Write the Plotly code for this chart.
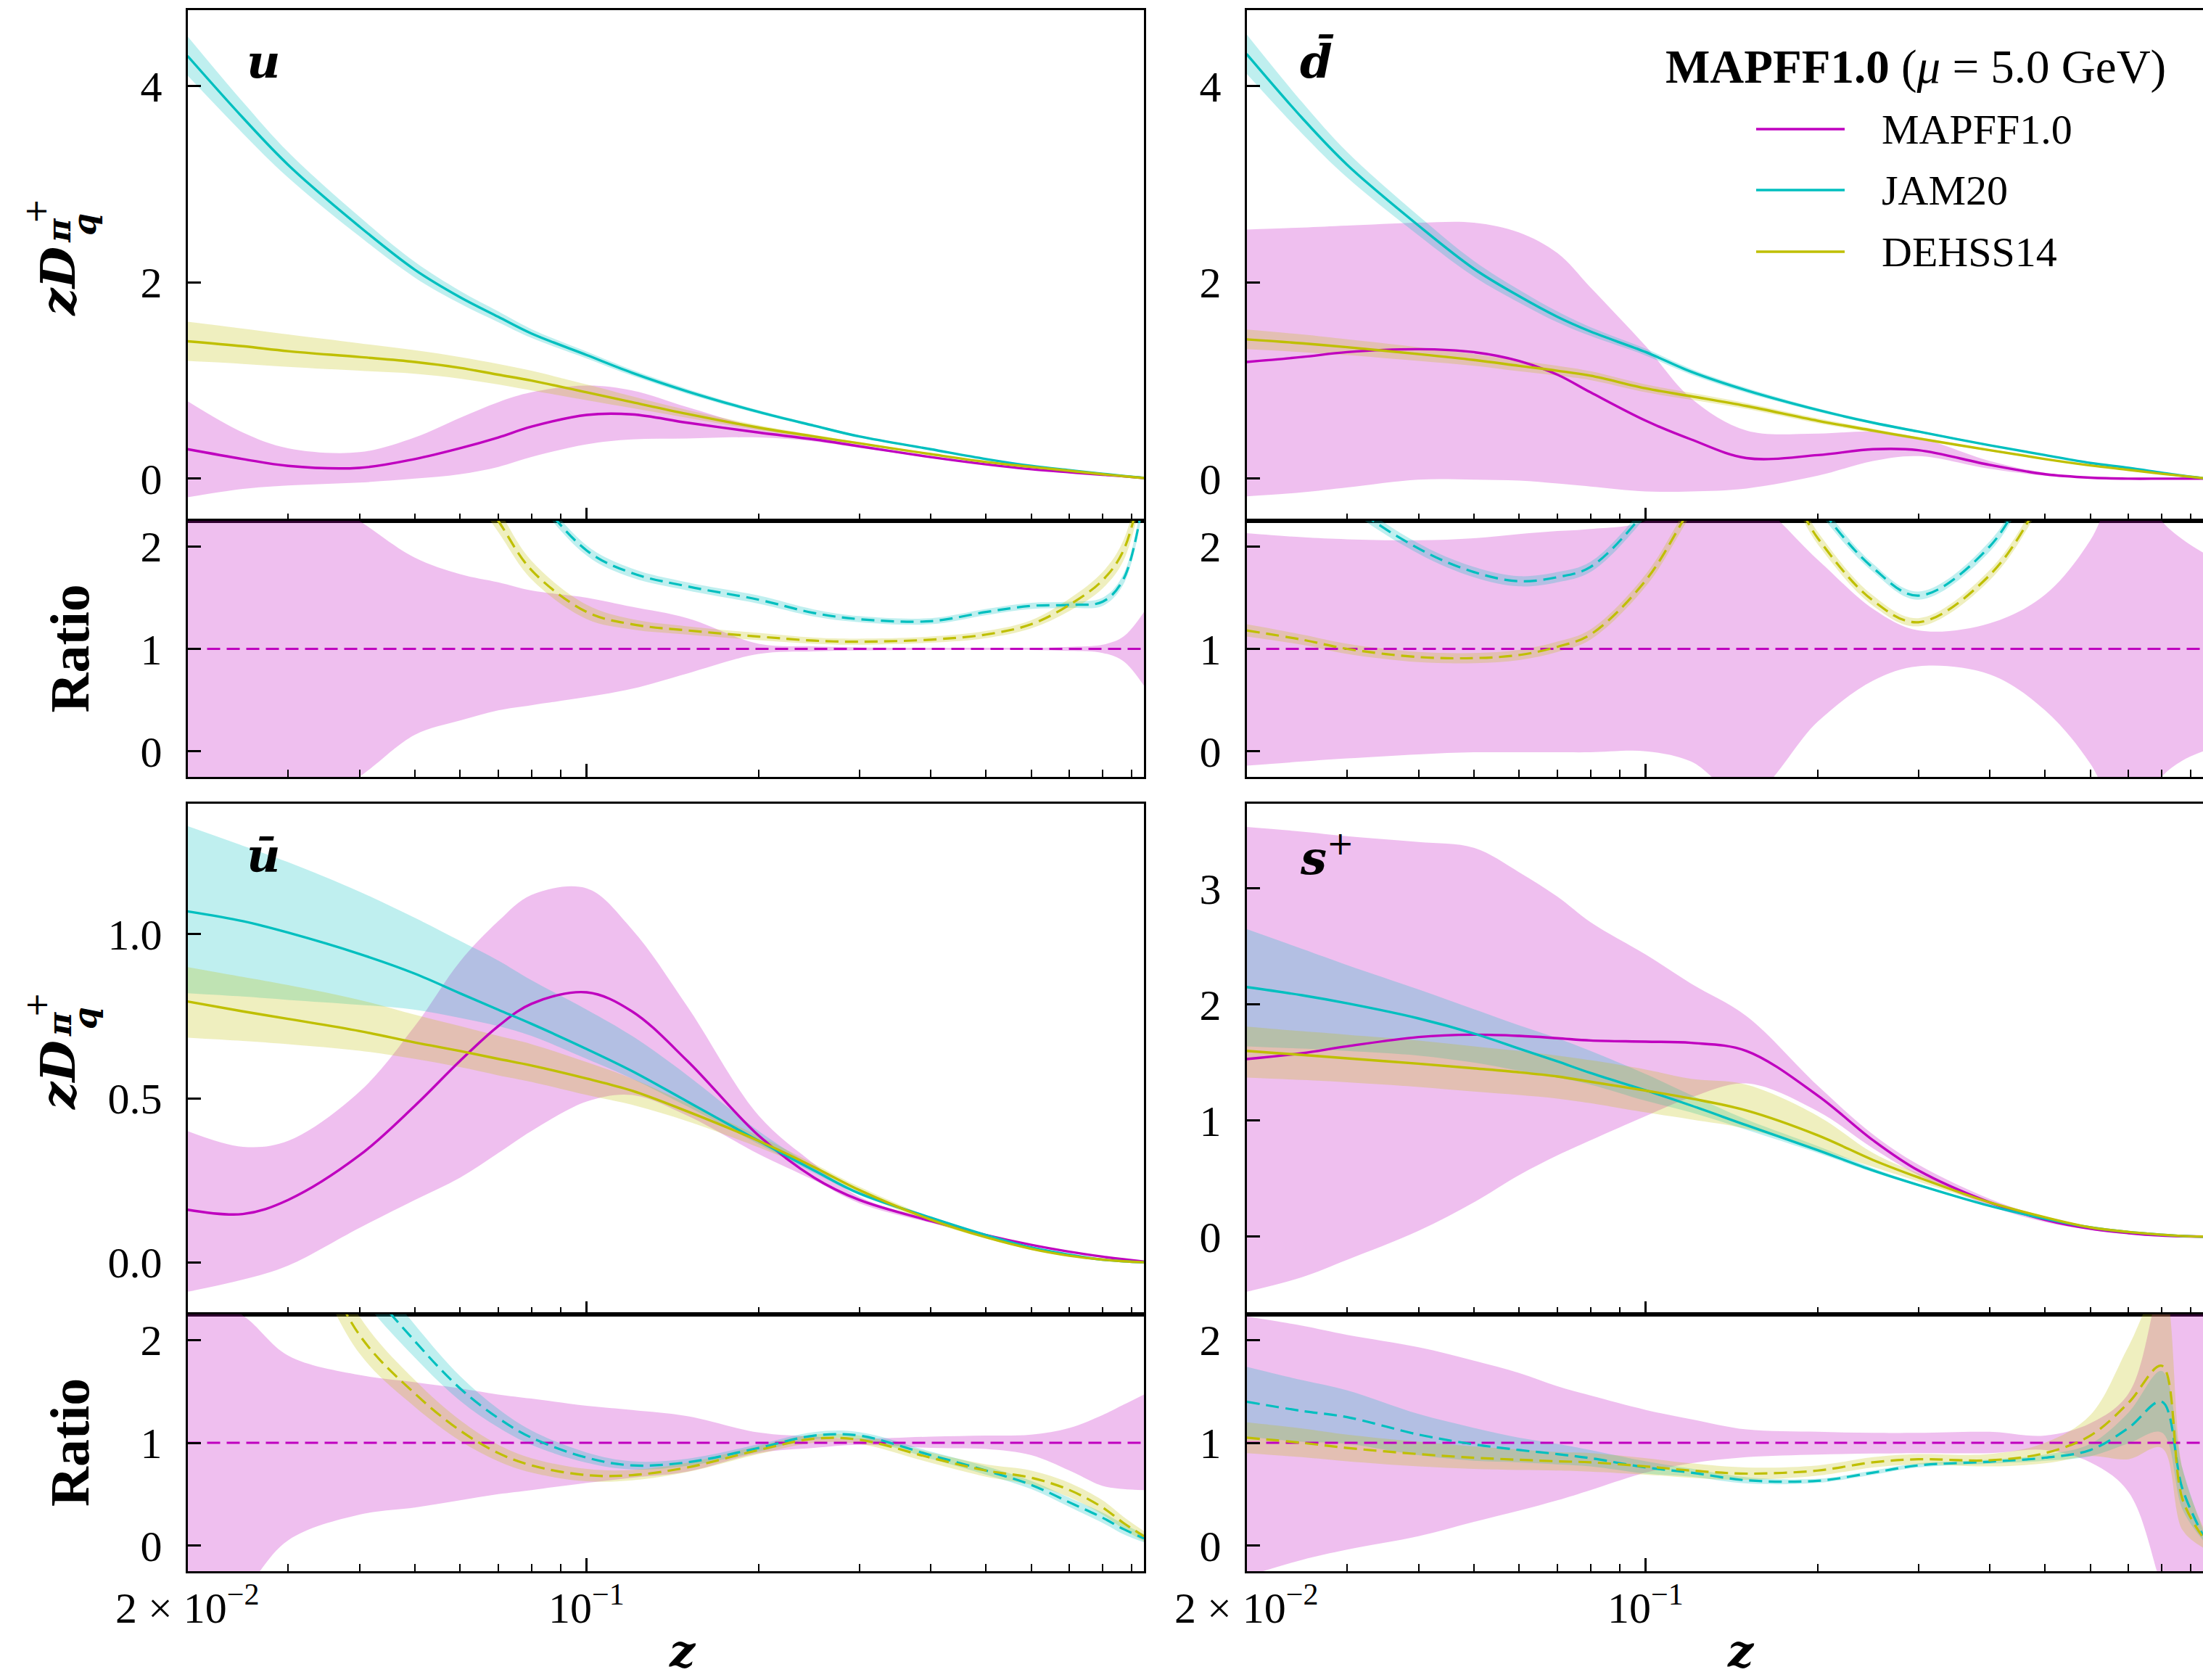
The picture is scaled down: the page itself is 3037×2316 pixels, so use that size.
import numpy as np
import plotly.graph_objects as go

# ---------------- data ----------------
Z = [0.02, 0.025, 0.03, 0.04, 0.05, 0.06, 0.07, 0.08, 0.1, 0.12, 0.15,
     0.2, 0.25, 0.3, 0.4, 0.5, 0.6, 0.7, 0.8, 0.87, 0.945]
Z_MIN, Z_MAX = 0.02, 0.945

# --- u ---
MAP_U_C = [0.30, 0.20, 0.13, 0.11, 0.20, 0.31, 0.42, 0.53, 0.65, 0.655, 0.57, 0.47, 0.40, 0.33, 0.22, 0.146, 0.096, 0.065, 0.04, 0.024, 0.006]
MAP_U_HI = [0.79, 0.47, 0.31, 0.27, 0.42, 0.62, 0.78, 0.88, 0.95, 0.90, 0.73, 0.52, 0.42, 0.345, 0.228, 0.151, 0.099, 0.067, 0.041, 0.025, 0.006]
MAP_U_LO = [-0.19, -0.105, -0.07, -0.04, 0.0, 0.045, 0.12, 0.22, 0.35, 0.40, 0.41, 0.42, 0.38, 0.315, 0.212, 0.141, 0.093, 0.063, 0.039, 0.023, 0.006]
JAM_U_C = [4.31, 3.68, 3.2, 2.57, 2.13, 1.85, 1.65, 1.48, 1.26, 1.08, 0.89, 0.68, 0.54, 0.43, 0.30, 0.20, 0.13, 0.086, 0.05, 0.028, 0.008]
JAM_U_HI = [4.51, 3.84, 3.33, 2.67, 2.21, 1.915, 1.705, 1.525, 1.295, 1.11, 0.915, 0.698, 0.554, 0.442, 0.308, 0.206, 0.134, 0.089, 0.052, 0.029, 0.008]
JAM_U_LO = [4.11, 3.52, 3.07, 2.47, 2.05, 1.785, 1.595, 1.435, 1.225, 1.05, 0.865, 0.662, 0.526, 0.418, 0.292, 0.194, 0.126, 0.083, 0.048, 0.027, 0.008]
DEH_U_C = [1.40, 1.35, 1.30, 1.24, 1.19, 1.13, 1.06, 1.00, 0.88, 0.78, 0.66, 0.52, 0.43, 0.36, 0.25, 0.17, 0.12, 0.08, 0.045, 0.025, 0.006]
DEH_U_HI = [1.60, 1.53, 1.47, 1.38, 1.31, 1.24, 1.17, 1.10, 0.96, 0.84, 0.70, 0.545, 0.447, 0.372, 0.258, 0.175, 0.123, 0.082, 0.046, 0.026, 0.006]
DEH_U_LO = [1.20, 1.17, 1.14, 1.10, 1.07, 1.02, 0.96, 0.90, 0.80, 0.72, 0.62, 0.495, 0.413, 0.348, 0.242, 0.165, 0.117, 0.078, 0.044, 0.024, 0.006]
MAP_U_R_HI = [2.8, 2.8, 2.7, 2.25, 1.89, 1.73, 1.65, 1.57, 1.50, 1.41, 1.30, 1.05, 1.025, 1.015, 1.01, 1.01, 1.01, 1.02, 1.04, 1.12, 1.36]
MAP_U_R_LO = [-0.8, -0.8, -0.7, -0.25, 0.16, 0.30, 0.40, 0.45, 0.53, 0.61, 0.76, 0.95, 0.975, 0.985, 0.99, 0.99, 0.99, 0.98, 0.96, 0.88, 0.64]
JAM_U_R = [3.5, 3.5, 3.5, 3.5, 3.5, 3.5, 3.2, 2.58, 1.96, 1.74, 1.61, 1.48, 1.35, 1.29, 1.27, 1.36, 1.42, 1.43, 1.46, 1.68, 2.5]
JAM_U_R_HW = [0.08, 0.08, 0.08, 0.08, 0.08, 0.08, 0.07, 0.06, 0.05, 0.045, 0.04, 0.04, 0.035, 0.03, 0.03, 0.03, 0.03, 0.03, 0.04, 0.05, 0.08]
DEH_U_R = [3.5, 3.5, 3.5, 3.5, 3.4, 2.8, 2.25, 1.77, 1.36, 1.24, 1.18, 1.12, 1.08, 1.07, 1.09, 1.14, 1.24, 1.43, 1.67, 1.96, 2.7]
DEH_U_R_HW = [0.12, 0.12, 0.12, 0.12, 0.12, 0.12, 0.11, 0.09, 0.07, 0.05, 0.04, 0.035, 0.03, 0.03, 0.03, 0.035, 0.04, 0.06, 0.08, 0.1, 0.12]

# --- dbar ---
MAP_D_C = [1.19, 1.24, 1.29, 1.32, 1.29, 1.20, 1.06, 0.88, 0.59, 0.40, 0.21, 0.24, 0.30, 0.29, 0.14, 0.045, 0.01, 0.0, 0.0, 0.0, 0.0]
MAP_D_HI = [2.54, 2.56, 2.58, 2.61, 2.61, 2.51, 2.30, 1.95, 1.35, 0.82, 0.49, 0.46, 0.48, 0.42, 0.18, 0.06, 0.015, 0.005, 0.003, 0.002, 0.0]
MAP_D_LO = [-0.18, -0.14, -0.09, -0.01, -0.01, -0.02, -0.05, -0.08, -0.13, -0.13, -0.10, 0.03, 0.18, 0.23, 0.10, 0.03, 0.005, -0.005, -0.005, -0.003, 0.0]
JAM_D_C = [4.33, 3.68, 3.2, 2.58, 2.14, 1.86, 1.65, 1.50, 1.29, 1.09, 0.90, 0.70, 0.57, 0.48, 0.34, 0.24, 0.16, 0.11, 0.06, 0.03, 0.005]
JAM_D_HI = [4.53, 3.84, 3.33, 2.68, 2.22, 1.925, 1.705, 1.545, 1.325, 1.12, 0.925, 0.718, 0.584, 0.492, 0.348, 0.246, 0.164, 0.113, 0.062, 0.031, 0.005]
JAM_D_LO = [4.13, 3.52, 3.07, 2.48, 2.06, 1.795, 1.595, 1.455, 1.255, 1.06, 0.875, 0.682, 0.556, 0.468, 0.332, 0.234, 0.156, 0.107, 0.058, 0.029, 0.005]
DEH_D_C = [1.42, 1.38, 1.34, 1.27, 1.21, 1.15, 1.10, 1.05, 0.92, 0.84, 0.74, 0.59, 0.49, 0.41, 0.29, 0.20, 0.135, 0.09, 0.05, 0.028, 0.005]
DEH_D_HI = [1.52, 1.47, 1.42, 1.34, 1.27, 1.205, 1.15, 1.095, 0.96, 0.875, 0.77, 0.615, 0.51, 0.425, 0.30, 0.207, 0.14, 0.093, 0.052, 0.029, 0.005]
DEH_D_LO = [1.32, 1.29, 1.26, 1.20, 1.15, 1.095, 1.05, 1.005, 0.88, 0.805, 0.71, 0.565, 0.47, 0.395, 0.28, 0.193, 0.13, 0.087, 0.048, 0.027, 0.005]
MAP_D_R_HI = [2.13, 2.09, 2.07, 2.06, 2.08, 2.12, 2.15, 2.17, 2.25, 2.6, 2.5, 1.87, 1.39, 1.18, 1.25, 1.53, 2.06, 2.8, 2.25, 2.07, 1.94]
MAP_D_R_LO = [-0.14, -0.10, -0.07, -0.03, -0.01, -0.01, -0.01, -0.01, 0.0, -0.1, -0.45, 0.29, 0.69, 0.83, 0.75, 0.40, -0.12, -0.8, -0.25, -0.09, 0.0]
JAM_D_R = [3.6, 3.0, 2.45, 1.98, 1.75, 1.66, 1.70, 1.80, 2.35, 3.0, 3.5, 2.41, 1.79, 1.52, 2.0, 2.9, 3.5, 4.0, 4.0, 4.0, 4.0]
JAM_D_R_HW = [0.07, 0.06, 0.06, 0.05, 0.05, 0.05, 0.05, 0.05, 0.06, 0.07, 0.08, 0.06, 0.04, 0.04, 0.05, 0.06, 0.07, 0.08, 0.08, 0.08, 0.08]
DEH_D_R = [1.18, 1.09, 1.0, 0.92, 0.91, 0.94, 1.02, 1.14, 1.67, 2.38, 3.2, 2.08, 1.47, 1.26, 1.72, 2.54, 3.5, 4.0, 4.0, 4.0, 4.0]
DEH_D_R_HW = [0.06, 0.05, 0.05, 0.05, 0.05, 0.05, 0.05, 0.05, 0.06, 0.07, 0.08, 0.06, 0.05, 0.04, 0.05, 0.06, 0.07, 0.08, 0.08, 0.08, 0.08]

# --- ubar ---
MAP_UB_C = [0.16, 0.147, 0.19, 0.326, 0.477, 0.614, 0.72, 0.788, 0.823, 0.765, 0.614, 0.386, 0.258, 0.19, 0.126, 0.083, 0.053, 0.032, 0.017, 0.009, 0.002]
MAP_UB_HI = [0.40, 0.352, 0.37, 0.52, 0.72, 0.917, 1.04, 1.12, 1.14, 1.015, 0.78, 0.447, 0.30, 0.20, 0.13, 0.086, 0.055, 0.034, 0.018, 0.01, 0.002]
MAP_UB_LO = [-0.09, -0.053, -0.01, 0.105, 0.19, 0.258, 0.333, 0.40, 0.49, 0.51, 0.447, 0.33, 0.25, 0.18, 0.12, 0.08, 0.051, 0.030, 0.016, 0.008, 0.002]
JAM_UB_C = [1.07, 1.04, 1.005, 0.94, 0.88, 0.82, 0.77, 0.727, 0.65, 0.583, 0.49, 0.37, 0.28, 0.21, 0.136, 0.083, 0.045, 0.023, 0.008, 0.003, 0.0]
JAM_UB_HI = [1.33, 1.27, 1.22, 1.13, 1.05, 0.98, 0.92, 0.86, 0.77, 0.69, 0.57, 0.40, 0.29, 0.215, 0.14, 0.085, 0.047, 0.024, 0.009, 0.003, 0.0]
JAM_UB_LO = [0.82, 0.81, 0.80, 0.785, 0.77, 0.745, 0.72, 0.69, 0.62, 0.56, 0.475, 0.36, 0.272, 0.205, 0.132, 0.08, 0.043, 0.022, 0.007, 0.002, 0.0]
DEH_UB_C = [0.795, 0.765, 0.742, 0.705, 0.67, 0.644, 0.62, 0.60, 0.56, 0.523, 0.46, 0.37, 0.29, 0.22, 0.13, 0.076, 0.041, 0.02, 0.008, 0.003, 0.0]
DEH_UB_HI = [0.90, 0.87, 0.845, 0.80, 0.755, 0.72, 0.69, 0.665, 0.61, 0.56, 0.485, 0.385, 0.30, 0.23, 0.137, 0.08, 0.044, 0.022, 0.009, 0.003, 0.0]
DEH_UB_LO = [0.685, 0.675, 0.665, 0.645, 0.62, 0.595, 0.57, 0.55, 0.51, 0.48, 0.43, 0.35, 0.28, 0.21, 0.123, 0.072, 0.038, 0.018, 0.007, 0.002, 0.0]
MAP_UB_R_HI = [2.5, 2.24, 1.85, 1.66, 1.59, 1.53, 1.47, 1.43, 1.36, 1.32, 1.26, 1.10, 1.06, 1.04, 1.06, 1.07, 1.08, 1.145, 1.27, 1.37, 1.47]
MAP_UB_R_LO = [-0.9, -0.45, 0.05, 0.30, 0.37, 0.44, 0.50, 0.54, 0.61, 0.66, 0.72, 0.90, 0.95, 0.98, 0.95, 0.94, 0.88, 0.73, 0.58, 0.55, 0.54]
JAM_UB_R = [4.0, 4.0, 3.8, 2.64, 1.99, 1.53, 1.24, 1.05, 0.855, 0.78, 0.81, 0.95, 1.07, 1.07, 0.88, 0.73, 0.59, 0.42, 0.27, 0.16, 0.07]
JAM_UB_R_HW = [0.3, 0.3, 0.25, 0.2, 0.16, 0.12, 0.09, 0.07, 0.05, 0.04, 0.035, 0.035, 0.035, 0.035, 0.035, 0.04, 0.04, 0.045, 0.05, 0.05, 0.04]
DEH_UB_R = [4.0, 4.0, 3.4, 2.05, 1.48, 1.12, 0.90, 0.78, 0.685, 0.685, 0.76, 0.93, 1.04, 1.03, 0.855, 0.73, 0.66, 0.54, 0.37, 0.22, 0.09]
DEH_UB_R_HW = [0.3, 0.3, 0.25, 0.18, 0.13, 0.1, 0.08, 0.07, 0.06, 0.05, 0.045, 0.04, 0.04, 0.04, 0.05, 0.06, 0.07, 0.07, 0.07, 0.06, 0.05]

# --- s+ ---
MAP_S_C = [1.53, 1.58, 1.64, 1.72, 1.74, 1.73, 1.71, 1.69, 1.68, 1.67, 1.60, 1.215, 0.83, 0.57, 0.295, 0.145, 0.068, 0.03, 0.009, 0.003, 0.0]
MAP_S_HI = [3.53, 3.49, 3.45, 3.40, 3.35, 3.14, 2.93, 2.71, 2.43, 2.18, 1.90, 1.30, 0.88, 0.62, 0.325, 0.167, 0.08, 0.035, 0.01, 0.004, 0.0]
MAP_S_LO = [-0.475, -0.35, -0.20, 0.05, 0.295, 0.53, 0.70, 0.83, 1.04, 1.20, 1.32, 1.08, 0.76, 0.53, 0.265, 0.125, 0.058, 0.025, 0.007, 0.002, 0.0]
JAM_S_C = [2.15, 2.08, 2.01, 1.88, 1.75, 1.62, 1.51, 1.41, 1.26, 1.13, 0.96, 0.745, 0.57, 0.445, 0.265, 0.154, 0.08, 0.04, 0.017, 0.006, 0.0]
JAM_S_HI = [2.65, 2.48, 2.34, 2.13, 1.96, 1.82, 1.71, 1.60, 1.40, 1.22, 1.01, 0.78, 0.59, 0.455, 0.27, 0.157, 0.082, 0.041, 0.017, 0.006, 0.0]
JAM_S_LO = [1.64, 1.62, 1.60, 1.56, 1.50, 1.43, 1.37, 1.31, 1.17, 1.07, 0.92, 0.72, 0.555, 0.435, 0.26, 0.151, 0.078, 0.039, 0.016, 0.006, 0.0]
DEH_S_C = [1.60, 1.566, 1.536, 1.49, 1.45, 1.416, 1.38, 1.335, 1.258, 1.19, 1.087, 0.873, 0.66, 0.51, 0.295, 0.167, 0.08, 0.04, 0.017, 0.006, 0.0]
DEH_S_HI = [1.81, 1.77, 1.74, 1.69, 1.64, 1.60, 1.56, 1.52, 1.44, 1.36, 1.31, 1.04, 0.72, 0.545, 0.31, 0.175, 0.085, 0.042, 0.018, 0.006, 0.0]
DEH_S_LO = [1.37, 1.35, 1.33, 1.29, 1.25, 1.22, 1.19, 1.15, 1.07, 1.01, 0.93, 0.75, 0.60, 0.475, 0.28, 0.16, 0.076, 0.038, 0.016, 0.006, 0.0]
MAP_S_R_HI = [2.23, 2.14, 2.05, 1.93, 1.80, 1.68, 1.55, 1.46, 1.32, 1.23, 1.13, 1.107, 1.097, 1.097, 1.107, 1.07, 1.19, 1.48, 2.6, 3.0, 3.0]
MAP_S_R_LO = [-0.3, -0.14, -0.04, 0.09, 0.23, 0.34, 0.44, 0.54, 0.71, 0.80, 0.86, 0.885, 0.895, 0.90, 0.90, 0.93, 0.81, 0.52, -0.4, -1.0, -1.0]
JAM_S_R = [1.40, 1.31, 1.25, 1.08, 0.985, 0.93, 0.89, 0.85, 0.76, 0.71, 0.635, 0.63, 0.71, 0.78, 0.816, 0.855, 0.93, 1.145, 1.40, 0.55, 0.10]
JAM_S_R_HW = [0.34, 0.30, 0.26, 0.20, 0.16, 0.12, 0.10, 0.08, 0.06, 0.04, 0.03, 0.02, 0.02, 0.02, 0.02, 0.03, 0.06, 0.15, 0.3, 0.2, 0.05]
DEH_S_R = [1.05, 1.0, 0.95, 0.89, 0.855, 0.835, 0.82, 0.81, 0.77, 0.73, 0.70, 0.73, 0.81, 0.84, 0.83, 0.90, 1.07, 1.39, 1.75, 0.45, 0.08]
DEH_S_R_HW = [0.15, 0.14, 0.13, 0.12, 0.11, 0.10, 0.09, 0.09, 0.08, 0.07, 0.06, 0.05, 0.05, 0.05, 0.06, 0.1, 0.2, 0.55, 0.8, 0.3, 0.1]

SET_NAMES = ["MAPFF1.0", "JAM20", "DEHSS14"]
X_TICKS = [0.02, 0.1]
X_TICKTEXT = ["2 × 10<sup>−2</sup>", "10<sup>−1</sup>"]
X_MINOR = [0.03, 0.04, 0.05, 0.06, 0.07, 0.08, 0.09, 0.2, 0.3, 0.4, 0.5, 0.6, 0.7, 0.8, 0.9]
RATIO_TICKS = [0, 1, 2]

# ---------------- styling / layout ----------------
W, H = 3037, 2316
FONT = "Liberation Serif"
MATH = "DejaVu Serif"
LINE_COL = ["#bf00bf", "#00bfbf", "#bfbf00"]
FILL_COL = ["rgba(191,0,191,0.25)", "rgba(0,191,191,0.25)", "rgba(191,191,0,0.25)"]


def px(x):
    return x / W


def py(y):
    return 1 - y / H


COL_X = [(258.5, 1577.0), (1718.5, 3037.0)]
ROW_Y = [((13.5, 718.0), (718.0, 1071.0)), ((1108.0, 1812.0), (1812.0, 2166.0))]
XLABEL_Y = 2212

panels = [
    dict(col=0, row=0, label="<b><i>u</i></b>",
         main=[(MAP_U_C, MAP_U_LO, MAP_U_HI), (JAM_U_C, JAM_U_LO, JAM_U_HI), (DEH_U_C, DEH_U_LO, DEH_U_HI)],
         ratio=[(MAP_U_R_LO, MAP_U_R_HI), (JAM_U_R, JAM_U_R_HW), (DEH_U_R, DEH_U_R_HW)],
         yrange=[-0.43, 4.78], yticks=[0, 2, 4], yticktext=["0", "2", "4"]),
    dict(col=1, row=0, label="<b><i>d\u0304</i></b>",
         main=[(MAP_D_C, MAP_D_LO, MAP_D_HI), (JAM_D_C, JAM_D_LO, JAM_D_HI), (DEH_D_C, DEH_D_LO, DEH_D_HI)],
         ratio=[(MAP_D_R_LO, MAP_D_R_HI), (JAM_D_R, JAM_D_R_HW), (DEH_D_R, DEH_D_R_HW)],
         yrange=[-0.43, 4.78], yticks=[0, 2, 4], yticktext=["0", "2", "4"]),
    dict(col=0, row=1, label="<b><i>ū</i></b>",
         main=[(MAP_UB_C, MAP_UB_LO, MAP_UB_HI), (JAM_UB_C, JAM_UB_LO, JAM_UB_HI), (DEH_UB_C, DEH_UB_LO, DEH_UB_HI)],
         ratio=[(MAP_UB_R_LO, MAP_UB_R_HI), (JAM_UB_R, JAM_UB_R_HW), (DEH_UB_R, DEH_UB_R_HW)],
         yrange=[-0.159, 1.398], yticks=[0, 0.5, 1.0], yticktext=["0.0", "0.5", "1.0"]),
    dict(col=1, row=1, label="<b><i>s</i></b><sup>+</sup>",
         main=[(MAP_S_C, MAP_S_LO, MAP_S_HI), (JAM_S_C, JAM_S_LO, JAM_S_HI), (DEH_S_C, DEH_S_LO, DEH_S_HI)],
         ratio=[(MAP_S_R_LO, MAP_S_R_HI), (JAM_S_R, JAM_S_R_HW), (DEH_S_R, DEH_S_R_HW)],
         yrange=[-0.67, 3.73], yticks=[0, 1, 2, 3], yticktext=["0", "1", "2", "3"]),
]

fig = go.Figure()
layout = {}
annotations = []
shapes = []

TICKFONT = dict(family=FONT, size=60, color="black")


def ax_key(letter, k):
    return f"{letter}axis" if k == 1 else f"{letter}axis{k}"


def ax_ref(letter, k):
    return letter if k == 1 else f"{letter}{k}"


def add_band(lo, hi, color, xr, yr):
    fig.add_trace(go.Scatter(x=Z, y=lo, mode="lines", line=dict(width=0, shape="spline"),
                             showlegend=False, hoverinfo="skip", xaxis=xr, yaxis=yr))
    fig.add_trace(go.Scatter(x=Z, y=hi, mode="lines", line=dict(width=0, shape="spline"),
                             fill="tonexty", fillcolor=color, showlegend=False,
                             hoverinfo="skip", xaxis=xr, yaxis=yr))


for i, p in enumerate(panels):
    kmain, krat = 2 * i + 1, 2 * i + 2
    x0, x1 = COL_X[p["col"]]
    (m_top, m_bot), (r_top, r_bot) = ROW_Y[p["row"]]
    xdom = [px(x0), px(x1)]
    for k, (ytop, ybot), is_ratio in [(kmain, (m_top, m_bot), False), (krat, (r_top, r_bot), True)]:
        layout[ax_key("x", k)] = dict(
            type="log", range=[np.log10(Z_MIN), np.log10(Z_MAX)], domain=xdom,
            anchor=ax_ref("y", k), showline=True, linecolor="black", linewidth=3, mirror=True,
            ticks="inside", ticklen=18, tickwidth=2.5, tickcolor="black",
            tickmode="array", tickvals=X_TICKS, ticktext=X_TICKTEXT, showticklabels=False,
            minor=dict(tickmode="array", tickvals=X_MINOR, ticks="inside", ticklen=10,
                       tickwidth=2, tickcolor="black", showgrid=False),
            showgrid=False, zeroline=False, tickfont=TICKFONT,
            automargin=False, fixedrange=True)
        yr = [-0.25, 2.25] if is_ratio else p["yrange"]
        ytv = RATIO_TICKS if is_ratio else p["yticks"]
        ytt = [str(v) for v in RATIO_TICKS] if is_ratio else p["yticktext"]
        layout[ax_key("y", k)] = dict(
            range=yr, domain=[py(ybot), py(ytop)], anchor=ax_ref("x", k),
            showline=True, linecolor="black", linewidth=3, mirror=(p["col"] == 0),
            ticks="inside", ticklen=18, tickwidth=2.5, tickcolor="black",
            tickmode="array", tickvals=ytv, ticktext=ytt, tickfont=TICKFONT,
            ticklabelstandoff=20, showgrid=False, zeroline=False, automargin=False,
            fixedrange=True)

    # x tick labels under the bottom ratio panels (placed at the tick positions)
    if p["row"] == 1:
        span = np.log10(Z_MAX) - np.log10(Z_MIN)
        for tv, tt in zip(X_TICKS, X_TICKTEXT):
            xt = x0 + (np.log10(tv) - np.log10(Z_MIN)) / span * (x1 - x0)
            annotations.append(dict(text=tt, x=px(xt), y=py(XLABEL_Y), xref="paper", yref="paper",
                                    xanchor="center", yanchor="middle", showarrow=False,
                                    font=TICKFONT))

    # main panel: bands first, then lines
    xr, yr_ = ax_ref("x", kmain), ax_ref("y", kmain)
    for j, (c, lo, hi) in enumerate(p["main"]):
        add_band(lo, hi, FILL_COL[j], xr, yr_)
    for j, (c, lo, hi) in enumerate(p["main"]):
        fig.add_trace(go.Scatter(x=Z, y=c, mode="lines", name=SET_NAMES[j],
                                 line=dict(color=LINE_COL[j], width=3.4, shape="spline"),
                                 showlegend=False, xaxis=xr, yaxis=yr_))

    # ratio panel
    xr, yr_ = ax_ref("x", krat), ax_ref("y", krat)
    mlo, mhi = p["ratio"][0]
    add_band(mlo, mhi, FILL_COL[0], xr, yr_)
    for j in (1, 2):
        r, hw = p["ratio"][j]
        add_band(np.array(r) - np.array(hw), np.array(r) + np.array(hw), FILL_COL[j], xr, yr_)
    ones = np.array(p["main"][0][0]) * 0 + 1.0
    fig.add_trace(go.Scatter(x=Z, y=ones, mode="lines", name=SET_NAMES[0],
                             line=dict(color=LINE_COL[0], width=3.2, dash="18px,9px"),
                             showlegend=False, xaxis=xr, yaxis=yr_))
    for j in (1, 2):
        r, hw = p["ratio"][j]
        fig.add_trace(go.Scatter(x=Z, y=r, mode="lines", name=SET_NAMES[j],
                                 line=dict(color=LINE_COL[j], width=3.2, dash="18px,9px", shape="spline"),
                                 showlegend=False, xaxis=xr, yaxis=yr_))

    # panel label
    lx = 338 if p["col"] == 0 else 1790
    ly = 84 if p["row"] == 0 else 1178
    annotations.append(dict(text=p["label"], x=px(lx), y=py(ly), xref="paper", yref="paper",
                            xanchor="left", yanchor="middle", showarrow=False,
                            font=dict(family=MATH, size=64, color="black")))

# y-axis titles (left column)
for row in range(2):
    (m_top, m_bot), (r_top, r_bot) = ROW_Y[row]
    mc = (m_top + m_bot) / 2
    rc = (r_top + r_bot) / 2
    annotations.append(dict(text="<b><i>zD</i></b>", x=px(80), y=py(mc + 22), xref="paper", yref="paper",
                            textangle=-90, showarrow=False, xanchor="center", yanchor="middle",
                            font=dict(family=MATH, size=66, color="black")))
    annotations.append(dict(text="<b><i>q</i></b>", x=px(117), y=py(mc - 56), xref="paper", yref="paper",
                            textangle=-90, showarrow=False, xanchor="center", yanchor="middle",
                            font=dict(family=MATH, size=44, color="black")))
    annotations.append(dict(text="<b><i>π</i></b>", x=px(82), y=py(mc - 48), xref="paper", yref="paper",
                            textangle=-90, showarrow=False, xanchor="center", yanchor="middle",
                            font=dict(family=MATH, size=44, color="black")))
    annotations.append(dict(text="+", x=px(50), y=py(mc - 74), xref="paper", yref="paper",
                            textangle=-90, showarrow=False, xanchor="center", yanchor="middle",
                            font=dict(family=MATH, size=42, color="black")))
    annotations.append(dict(text="<b>Ratio</b>", x=px(96), y=py(rc), xref="paper", yref="paper",
                            textangle=-90, showarrow=False, xanchor="center", yanchor="middle",
                            font=dict(family=FONT, size=76, color="black")))

# x-axis titles
for cx in (941, 2400):
    annotations.append(dict(text="<b><i>z</i></b>", x=px(cx), y=py(2315), xref="paper", yref="paper",
                            showarrow=False, xanchor="center", yanchor="bottom",
                            font=dict(family=MATH, size=62, color="black")))

# legend (drawn in the top-right panel)
annotations.append(dict(text="<b>MAPFF1.0</b> (<i>μ</i> = 5.0 GeV)", x=px(2294), y=py(92),
                        xref="paper", yref="paper", showarrow=False, xanchor="left", yanchor="middle",
                        font=dict(family=FONT, size=65, color="black")))
for j, (name, ycen) in enumerate(zip(SET_NAMES, (178, 262, 347))):
    shapes.append(dict(type="line", xref="paper", yref="paper", x0=px(2421), x1=px(2543),
                       y0=py(ycen), y1=py(ycen), line=dict(color=LINE_COL[j], width=3.5)))
    annotations.append(dict(text=name, x=px(2592), y=py(ycen), xref="paper", yref="paper",
                            showarrow=False, xanchor="left", yanchor="middle",
                            font=dict(family=FONT, size=58, color="black")))

fig.update_layout(
    width=W, height=H, margin=dict(l=0, r=0, t=0, b=0, pad=0, autoexpand=False),
    paper_bgcolor="white", plot_bgcolor="white", showlegend=False,
    annotations=annotations, shapes=shapes, **layout)

fig.write_html("out.html")
